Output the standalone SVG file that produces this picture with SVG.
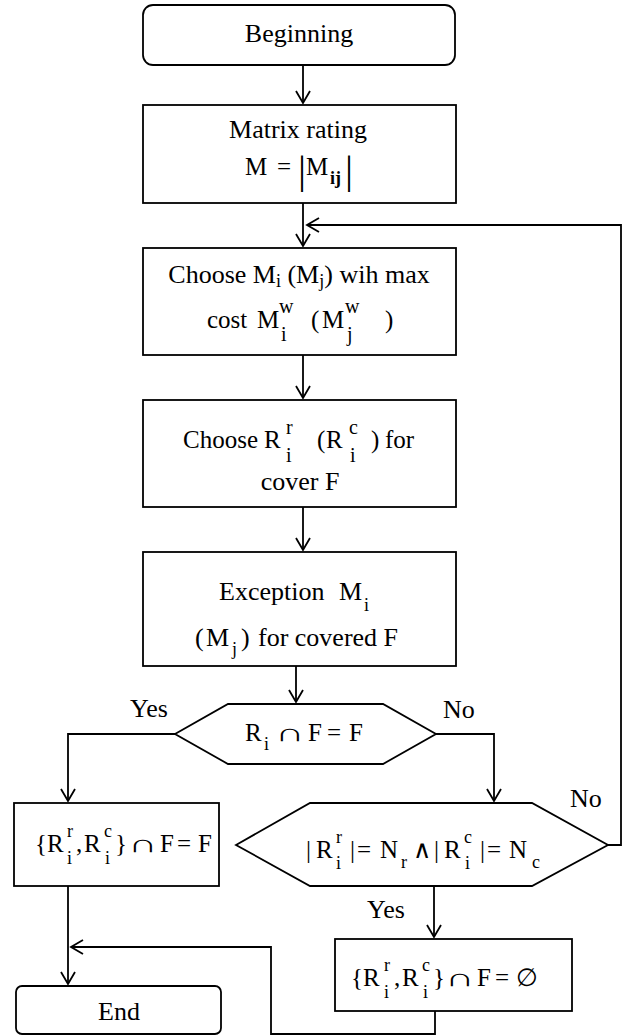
<svg xmlns="http://www.w3.org/2000/svg" width="624" height="1035" viewBox="0 0 624 1035">
<style>
.box{fill:#fff;stroke:#000;stroke-width:1.8}
.ln{fill:none;stroke:#000;stroke-width:1.8}
.f{font-family:'Liberation Serif','Times New Roman','DejaVu Serif',serif}
.t{font-size:26px}
.m{font-size:25px}
.s{font-size:18px}
.sb{font-size:20px}
.bar{font-size:40px}
</style>
<defs>
<marker id="arr" markerUnits="userSpaceOnUse" markerWidth="16" markerHeight="16" viewBox="-14 -8 16 16" refX="0" refY="0" orient="auto">
<path d="M-12,-7 L0,0 L-12,7" fill="none" stroke="#000" stroke-width="1.8"/>
</marker>
</defs>
<rect width="624" height="1035" fill="#fff"/>

<g id="connectors">
<path class="ln" d="M303,65 V103" marker-end="url(#arr)"/>
<path class="ln" d="M303,203 V246" marker-end="url(#arr)"/>
<path class="ln" d="M303,355 V398" marker-end="url(#arr)"/>
<path class="ln" d="M303,507 V550" marker-end="url(#arr)"/>
<path class="ln" d="M296,666 V702" marker-end="url(#arr)"/>
<path class="ln" d="M175,734 H68 V801" marker-end="url(#arr)"/>
<path class="ln" d="M436,734 H494 V801" marker-end="url(#arr)"/>
<path class="ln" d="M608,845 H621 V225 H307" marker-end="url(#arr)"/>
<path class="ln" d="M434,886 V937" marker-end="url(#arr)"/>
<path class="ln" d="M68,886 V984" marker-end="url(#arr)"/>
<path class="ln" d="M435,1011 V1034 H271 V947 H71" marker-end="url(#arr)"/>
</g>

<g class="f" fill="#000">
<g id="labels">
<text class="t" x="130" y="717">Yes</text>
<text class="t" x="443" y="718">No</text>
<text class="t" x="570" y="807">No</text>
<text class="t" x="367" y="918">Yes</text>
</g>

<g id="beginning">
<rect class="box" x="143" y="5" width="312" height="60" rx="10"/>
<text class="t" x="299" y="42" text-anchor="middle">Beginning</text>
</g>

<g id="matrix">
<rect class="box" x="143" y="105" width="313" height="98"/>
<text class="t" x="298" y="138" text-anchor="middle">Matrix rating</text>
<text class="m" x="245" y="175">M</text>
<text class="m" x="277" y="175">=</text>
<text class="m" x="306" y="175">M<tspan class="s" font-weight="bold" x="330" y="184">ij</tspan></text>
<text class="bar" x="298" y="183">|</text>
<text class="bar" x="345" y="183">|</text>
</g>

<g id="choose-m">
<rect class="box" x="143" y="248" width="313" height="107"/>
<text class="t" x="299" y="283" text-anchor="middle">Choose M<tspan class="s" dy="4">i</tspan><tspan dy="-4"> (M</tspan><tspan class="s" dy="4">j</tspan><tspan dy="-4">) wih max</tspan></text>
<text class="m" x="207" y="328">cost</text>
<text class="m" x="257" y="328">M<tspan class="sb" x="279" y="313">w</tspan><tspan class="sb" x="281" y="341">i</tspan></text>
<text class="m" x="311" y="328">(</text>
<text class="m" x="322" y="328">M<tspan class="sb" x="345" y="313">w</tspan><tspan class="sb" x="347" y="341">j</tspan></text>
<text class="m" x="385" y="328">)</text>
</g>

<g id="choose-r">
<rect class="box" x="143" y="400" width="313" height="107"/>
<text class="m" x="183" y="448">Choose</text>
<text class="m" x="264" y="448">R<tspan class="sb" x="286" y="434">r</tspan><tspan class="sb" x="286" y="462">i</tspan></text>
<text class="m" x="317" y="448">(</text>
<text class="m" x="326" y="448">R<tspan class="sb" x="349" y="434">c</tspan><tspan class="sb" x="350" y="462">i</tspan></text>
<text class="m" x="371" y="448">)</text>
<text class="m" x="385" y="448">for</text>
<text class="t" x="300" y="490" text-anchor="middle">cover F</text>
</g>

<g id="exception">
<rect class="box" x="143" y="552" width="313" height="114"/>
<text class="t" x="219" y="600">Exception</text>
<text class="t" x="339" y="600">M<tspan class="s" x="364" y="611">i</tspan></text>
<text class="t" x="195" y="646">(</text>
<text class="t" x="206" y="646">M<tspan class="s" x="232" y="655">j</tspan></text>
<text class="t" x="241" y="646">)</text>
<text class="t" x="258" y="646">for covered F</text>
</g>

<g id="decision1">
<polygon class="box" points="175,734 228,704 383,704 436,734 383,764 228,764"/>
<text class="m" x="245" y="741">R<tspan class="s" x="264" y="750">i</tspan></text>
<text class="m" transform="translate(275,741) scale(1.6,1)">∩</text>
<text class="m" x="308" y="741">F</text>
<text class="m" x="327" y="741">=</text>
<text class="m" x="349" y="741">F</text>
</g>

<g id="result-yes">
<rect class="box" x="14" y="803" width="205" height="83"/>
<text class="m" x="35" y="852">{</text>
<text class="m" x="47" y="852">R<tspan class="s" x="67" y="837">r</tspan><tspan class="s" x="67" y="864">i</tspan></text>
<text class="m" x="76" y="852">,</text>
<text class="m" x="84" y="852">R<tspan class="s" x="104" y="837">c</tspan><tspan class="s" x="105" y="864">i</tspan></text>
<text class="m" x="115" y="852">}</text>
<text class="m" transform="translate(128,852) scale(1.6,1)">∩</text>
<text class="m" x="160" y="852">F</text>
<text class="m" x="177" y="852">=</text>
<text class="m" x="198" y="852">F</text>
</g>

<g id="decision2">
<polygon class="box" points="236,845 310,803 532,803 608,845 532,886 310,886"/>
<text class="m" x="306" y="858">|</text>
<text class="m" x="316" y="858">R<tspan class="s" x="336" y="843">r</tspan><tspan class="s" x="336" y="869">i</tspan></text>
<text class="m" x="350" y="858">|</text>
<text class="m" x="357" y="858">=</text>
<text class="m" x="380" y="858">N<tspan class="s" x="401" y="868">r</tspan></text>
<text class="m" x="413" y="858">∧</text>
<text class="m" x="434" y="858">|</text>
<text class="m" x="444" y="858">R<tspan class="s" x="464" y="843">c</tspan><tspan class="s" x="465" y="869">i</tspan></text>
<text class="m" x="480" y="858">|</text>
<text class="m" x="487" y="858">=</text>
<text class="m" x="509" y="858">N<tspan class="s" x="532" y="868">c</tspan></text>
</g>

<g id="result-no">
<rect class="box" x="335" y="939" width="237" height="72"/>
<text class="m" x="351" y="986">{</text>
<text class="m" x="363" y="986">R<tspan class="s" x="384" y="971">r</tspan><tspan class="s" x="384" y="998">i</tspan></text>
<text class="m" x="394" y="986">,</text>
<text class="m" x="402" y="986">R<tspan class="s" x="422" y="971">c</tspan><tspan class="s" x="423" y="998">i</tspan></text>
<text class="m" x="433" y="986">}</text>
<text class="m" transform="translate(445,986) scale(1.6,1)">∩</text>
<text class="m" x="477" y="986">F</text>
<text class="m" x="495" y="986">=</text>
<text class="m" x="516" y="986">∅</text>
</g>

<g id="end">
<rect class="box" x="16" y="986" width="205" height="48" rx="6"/>
<text class="t" x="119" y="1020" text-anchor="middle">End</text>
</g>
</g>
</svg>
